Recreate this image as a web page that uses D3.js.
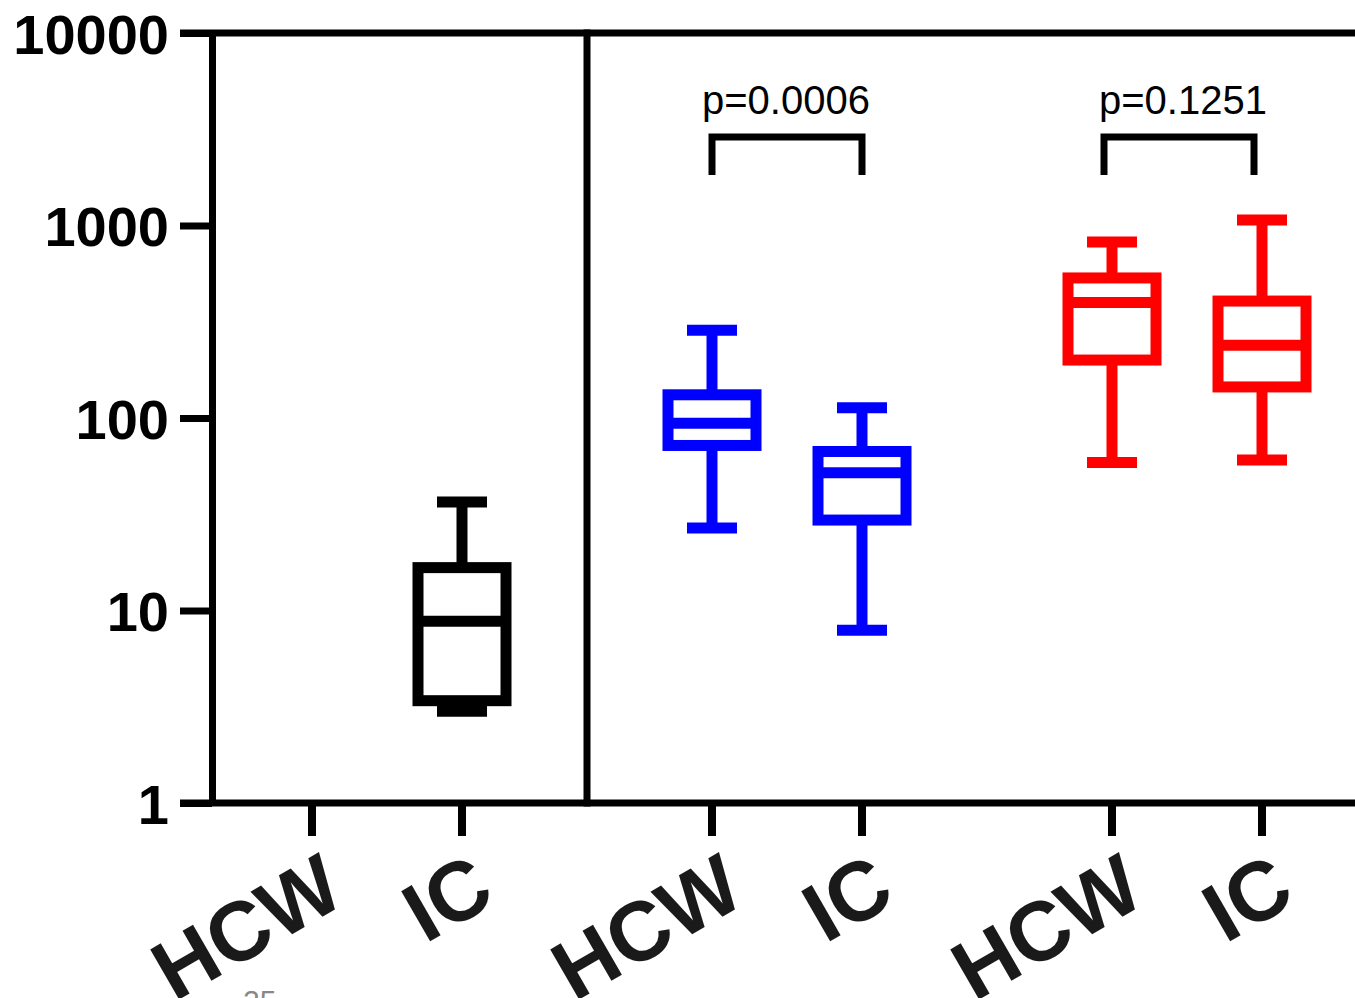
<!DOCTYPE html>
<html>
<head>
<meta charset="utf-8">
<script src="https://cdn.jsdelivr.net/npm/d3@7"></script>
<style>
  body { margin: 0; background: #fff; }
  svg { display: block; }
</style>
</head>
<body>
<div id="chart"></div>
<script>
// panels (not labelled in the figure) and their groups
var groups = ["A", "B", "C"];
var subgroups = ["HCW", "IC"];
var groupColors = ["#000000", "#0000ff", "#ff0000"];

// box plot values, one entry per box
var boxGroup = ["A", "B", "B", "C", "C"];
var boxSub = ["IC", "HCW", "IC", "HCW", "IC"];
var whiskerLow = [3.0, 26.8, 7.9, 58.7, 60.5];
var q1 = [3.4, 72, 29.5, 200, 145];
var median = [8.8, 94, 52, 398, 239];
var q3 = [16.7, 132, 67, 534, 405];
var whiskerHigh = [36.6, 286, 113, 821, 1069];

// significance brackets
var pGroups = ["B", "C"];
var pLabels = ["p=0.0006", "p=0.1251"];

var yTicks = [1, 10, 100, 1000, 10000];

var width = 1355, height = 998;

var svg = d3.select("#chart")
    .append("svg")
    .attr("width", width)
    .attr("height", height);

// y scale (log)
var y = d3.scaleLog()
    .domain([1, 10000])
    .range([803, 33]);

// x: one band per panel, two points inside each band
var xGroup = d3.scaleBand()
    .domain(groups)
    .range([187, 1387]);
var xSub = d3.scalePoint()
    .domain(subgroups)
    .range([0, xGroup.bandwidth()])
    .padding(5 / 6);

function xPos(g, s) { return xGroup(g) + xSub(s); }

// y axis
var yAxis = svg.append("g")
    .attr("transform", "translate(212,0)")
    .call(d3.axisLeft(y)
        .tickValues(yTicks)
        .tickFormat(d3.format("d"))
        .tickSize(32)
        .tickSizeOuter(0)
        .tickPadding(11));
yAxis.select(".domain").attr("stroke-width", 7);
yAxis.selectAll(".tick line").attr("stroke-width", 7);
yAxis.selectAll(".tick text")
    .attr("font-family", "Liberation Sans, Arial, sans-serif")
    .attr("font-weight", "bold")
    .attr("font-size", 56)
    .attr("dy", "0.36em")
    .attr("fill", "#000");

// frame lines: top, bottom, panel divider
var frame = svg.append("g").attr("stroke", "#000").attr("stroke-width", 7);
frame.append("line")
    .attr("x1", 180).attr("x2", width)
    .attr("y1", y(10000)).attr("y2", y(10000));
frame.append("line")
    .attr("x1", 180).attr("x2", width)
    .attr("y1", y(1)).attr("y2", y(1));
frame.append("line")
    .attr("x1", xGroup("B")).attr("x2", xGroup("B"))
    .attr("y1", y(10000) - 3.5).attr("y2", y(1) + 3.5);

// x ticks and rotated labels
var cats = [];
groups.forEach(function (g) {
    subgroups.forEach(function (s) { cats.push({ g: g, s: s }); });
});

svg.selectAll(".xtick")
    .data(cats)
    .enter()
    .append("line")
    .attr("class", "xtick")
    .attr("x1", function (d) { return xPos(d.g, d.s); })
    .attr("x2", function (d) { return xPos(d.g, d.s); })
    .attr("y1", y(1))
    .attr("y2", y(1) + 33)
    .attr("stroke", "#000")
    .attr("stroke-width", 8);

svg.selectAll(".xlabel")
    .data(cats)
    .enter()
    .append("text")
    .attr("class", "xlabel")
    .attr("transform", function (d) {
        return "translate(" + (xPos(d.g, d.s) + 36) + ",902) rotate(-30)";
    })
    .attr("text-anchor", "end")
    .attr("font-family", "Liberation Sans, Arial, sans-serif")
    .attr("font-weight", "bold")
    .attr("font-size", 84)
    .attr("fill", "#1a1a1a")
    .text(function (d) { return d.s; });

// boxes
var boxW = 88, capW = 50, lw = 11;
var boxes = boxGroup.map(function (g, i) {
    return {
        g: g, s: boxSub[i], lo: whiskerLow[i], q1: q1[i], med: median[i],
        q3: q3[i], hi: whiskerHigh[i], color: groupColors[groups.indexOf(g)]
    };
});

var bx = svg.selectAll(".box")
    .data(boxes)
    .enter()
    .append("g")
    .attr("class", "box")
    .attr("transform", function (d) { return "translate(" + xPos(d.g, d.s) + ",0)"; })
    .attr("stroke", function (d) { return d.color; })
    .attr("stroke-width", lw)
    .attr("fill", "none");

// whiskers
bx.append("line")
    .attr("x1", 0).attr("x2", 0)
    .attr("y1", function (d) { return y(d.q3); })
    .attr("y2", function (d) { return y(d.hi); });
bx.append("line")
    .attr("x1", 0).attr("x2", 0)
    .attr("y1", function (d) { return y(d.q1); })
    .attr("y2", function (d) { return y(d.lo); });
// caps
bx.append("line")
    .attr("x1", -capW / 2).attr("x2", capW / 2)
    .attr("y1", function (d) { return y(d.hi); })
    .attr("y2", function (d) { return y(d.hi); });
bx.append("line")
    .attr("x1", -capW / 2).attr("x2", capW / 2)
    .attr("y1", function (d) { return y(d.lo); })
    .attr("y2", function (d) { return y(d.lo); });
// box
bx.append("rect")
    .attr("x", -boxW / 2)
    .attr("width", boxW)
    .attr("y", function (d) { return y(d.q3); })
    .attr("height", function (d) { return y(d.q1) - y(d.q3); })
    .attr("fill", "#fff");
// median
bx.append("line")
    .attr("x1", -boxW / 2).attr("x2", boxW / 2)
    .attr("y1", function (d) { return y(d.med); })
    .attr("y2", function (d) { return y(d.med); });

// p-value brackets
var nudge = { B: 0, C: -8 };
var textNudge = { B: -1, C: -4 };
var br = svg.selectAll(".bracket")
    .data(pGroups)
    .enter()
    .append("g")
    .attr("class", "bracket");

br.append("path")
    .attr("d", function (g) {
        var x1 = xPos(g, "HCW") + nudge[g], x2 = xPos(g, "IC") + nudge[g];
        return "M" + x1 + ",175V137H" + x2 + "V175";
    })
    .attr("fill", "none")
    .attr("stroke", "#000")
    .attr("stroke-width", 7);

br.append("text")
    .attr("x", function (g) { return (xPos(g, "HCW") + xPos(g, "IC")) / 2 + textNudge[g]; })
    .attr("y", 114)
    .attr("text-anchor", "middle")
    .attr("font-family", "Liberation Sans, Arial, sans-serif")
    .attr("font-size", 40)
    .attr("fill", "#000")
    .text(function (g, i) { return pLabels[i]; });

// cut-off text at the bottom edge
svg.append("text")
    .attr("x", 243)
    .attr("y", 1011)
    .attr("font-family", "Liberation Sans, Arial, sans-serif")
    .attr("font-size", 30)
    .attr("fill", "#888")
    .text("25");
</script>
</body>
</html>
